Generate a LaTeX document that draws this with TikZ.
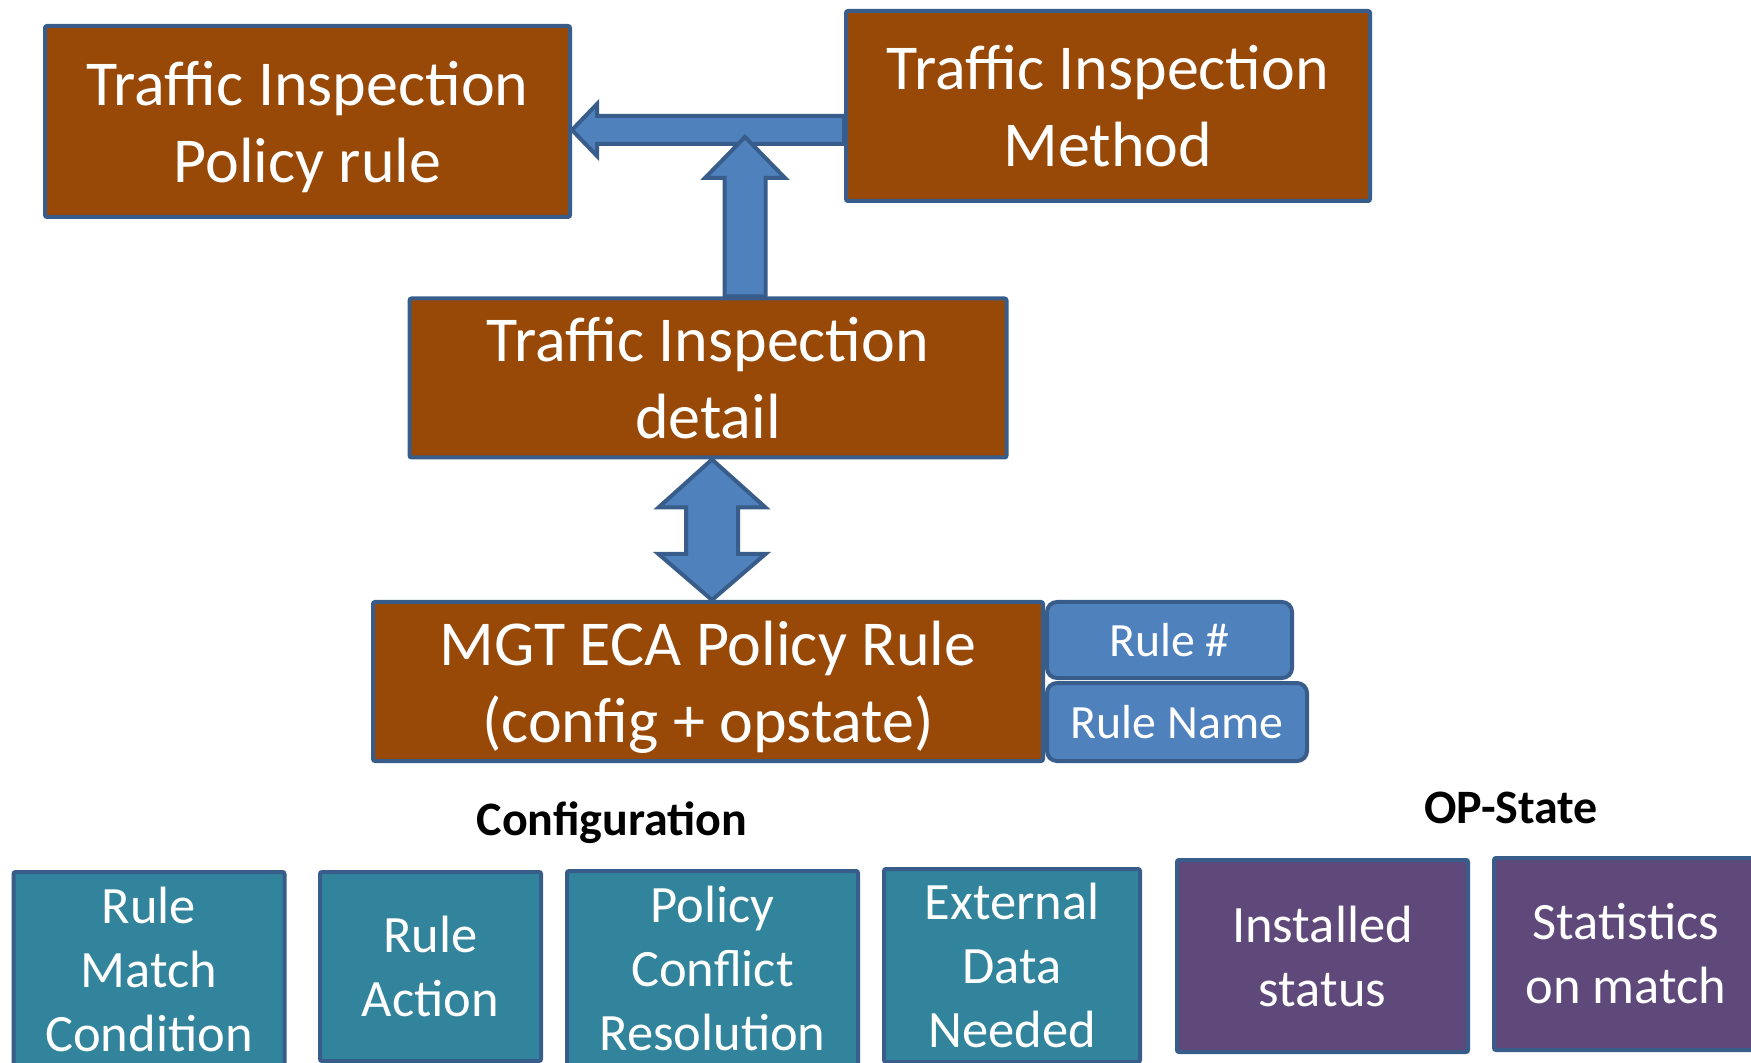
\documentclass[tikz,border=0pt]{standalone}
\usepackage{fontspec}
\setmainfont{Carlito}
\usetikzlibrary{calc,backgrounds}
\definecolor{boxbrown}{RGB}{152,72,7}
\definecolor{edgeblue}{RGB}{56,93,138}
\definecolor{arrowblue}{RGB}{79,129,189}
\definecolor{cfgteal}{RGB}{49,132,155}
\definecolor{opviolet}{RGB}{95,73,122}
\begin{document}
\begin{tikzpicture}[x=0.5pt,y=-0.5pt,
  px/.style 2 args={minimum width=#1*0.5pt, minimum height=#2*0.5pt},
  box/.style={draw=edgeblue, line width=2pt, inner sep=0pt, align=center,
    text=white, rounded corners=1pt},
  mainbox/.style={box, fill=boxbrown, font=\fontsize{32}{38.5}\selectfont},
  tagbox/.style={box, fill=arrowblue, rounded corners=5pt,
    font=\fontsize{23.9}{28}\selectfont},
  cfgbox/.style={box, fill=cfgteal, font=\fontsize{26.25}{32}\selectfont},
  opbox/.style={box, fill=opviolet, font=\fontsize{26.25}{32}\selectfont},
  heading/.style={font=\bfseries\fontsize{24}{28}\selectfont, inner sep=0pt},
  blockarrow/.style={draw=edgeblue, line width=2pt, fill=arrowblue, line join=miter}
]
\useasboundingbox (0,0) rectangle (1751,1063);
\clip (0,0) rectangle (1751,1063);

% upper chain of boxes
\node[mainbox, px={525}{191}] (pol) at (307.5,121.5) {Traffic Inspection\\\smash{Policy rule}};
\node[mainbox, px={524}{190}] (meth) at (1108,106) {Traffic Inspection\\Method};
\node[mainbox, px={597}{159}] (detail) at (708,378) {Traffic Inspection\\detail};
\node[mainbox, px={670}{159}] (mgt) at (708,681.5) {MGT ECA Policy Rule\\\smash{(config + opstate)}};
\node[tagbox, px={245}{76}] (rnum) at (1169.5,640) {Rule \#};
\node[tagbox, px={260}{78}] (rname) at (1177,722) {Rule Name};

% group headings
\node[heading, anchor=base] (cfg) at (612,835) {Configuration};
\node[heading, anchor=base] (ops) at (1511,823) {OP-State};

% configuration parts
\node[cfgbox, px={271}{195}] (match) at (149,969.5) {Rule\\Match\\Condition};
\node[cfgbox, px={221}{189}] (action) at (430.5,966.5) {Rule\\Action};
\node[cfgbox, px={291}{195}] (conflict) at (712.5,968.5) {Policy\\Conflict\\Resolution};
\node[cfgbox, px={256}{193}] (external) at (1012,965.5) {External\\Data\\Needed};

% operational state parts
\node[opbox, px={291}{192}] (installed) at (1322.5,956) {Installed\\status};
\node[opbox, px={264}{192}] (stats) at (1626,954) {Statistics\\on match};

% block arrows between the boxes
\begin{pgfonlayer}{background}
  \coordinate (ht) at (pol.east |- 0,130);
  \draw[blockarrow] (ht) -- ++(25,-26) -- ++(0,12)
    -- ($(meth.west |- ht)+(0,-14)$) -- ($(meth.west |- ht)+(0,14)$)
    -- ($(ht)+(25,14)$) -- ++(0,12) -- cycle;

  \coordinate (vt) at (745,137);
  \draw[blockarrow] (vt) -- ++(40,41) -- ++(-19.5,0)
    -- ($(vt |- detail.north)+(20.5,0)$) -- ($(vt |- detail.north)+(-20.5,0)$)
    -- ($(vt)+(-20.5,41)$) -- ++(-19.5,0) -- cycle;

  \coordinate (dtop) at (detail.south -| 712,0);
  \coordinate (dbot) at (mgt.north -| 712,0);
  \draw[blockarrow] (dtop) -- ++(53.5,48) -- ++(-27.5,0)
    -- ($(dbot)+(26,-46)$) -- ++(27.5,0) -- (dbot)
    -- ++(-53.5,-46) -- ++(27.5,0)
    -- ($(dtop)+(-26,48)$) -- ++(-27.5,0) -- cycle;
\end{pgfonlayer}
\end{tikzpicture}
\end{document}
